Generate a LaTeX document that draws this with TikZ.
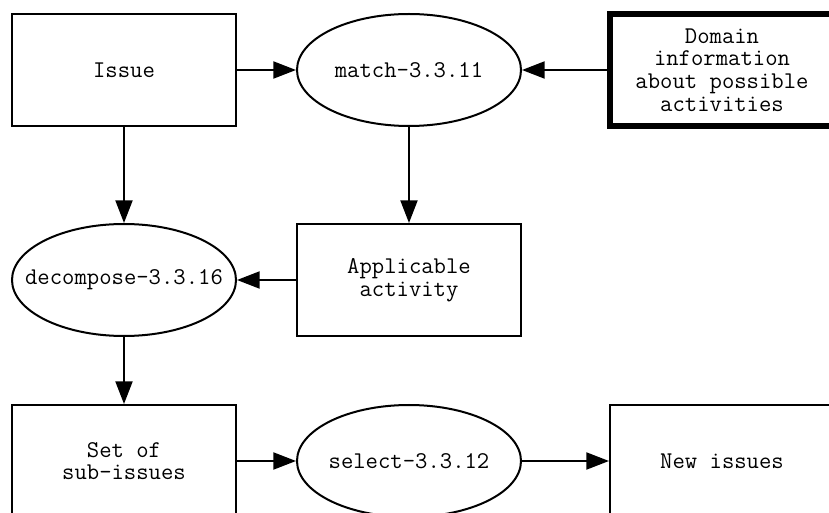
\documentclass[tikz,border=0pt]{standalone}
\usepackage{fontspec}
\usetikzlibrary{shapes, arrows.meta, positioning}

\begin{document}
\begin{tikzpicture}[x=0.75pt, y=-0.75pt,
    every node/.style={font=\ttfamily\fontsize{18pt}{17pt}\selectfont, align=center},
    data/.style={draw, rectangle, line width=1.5pt, minimum width=168pt, minimum height=84pt, inner sep=0pt},
    proc/.style={draw, ellipse, line width=1.5pt, minimum width=168pt, minimum height=84pt, inner sep=0pt},
    flow/.style={line width=1.5pt, -{Triangle[length=17pt, width=12.75pt]}}]
    \clip (0,0) rectangle (829,513);

    % Top row
    \node[data] (issue) at (124,70) {Issue};
    \node[proc] (match) at (409,70) {\makebox[0pt]{match-3.3.11}};
    \node[data, line width=4.5pt] (domain) at (722,70) {Domain\\information\\about possible\\activities};

    % Middle row
    \node[proc] (decompose) at (124,280) {\makebox[0pt]{decompose-3.3.16}};
    \node[data] (applicable) at (409,280) {Applicable\\activity};

    % Bottom row
    \node[data] (subissues) at (124,461) {Set of\\sub-issues};
    \node[proc] (select) at (409,461) {\makebox[0pt]{select-3.3.12}};
    \node[data] (newissues) at (722,461) {New issues};

    % Connectors
    \draw[flow] (issue) -- (match);
    \draw[flow] (domain) -- (match);
    \draw[flow] (issue) -- (decompose);
    \draw[flow] (match) -- (applicable);
    \draw[flow] (applicable) -- (decompose);
    \draw[flow] (decompose) -- (subissues);
    \draw[flow] (subissues) -- (select);
    \draw[flow] (select) -- (newissues);
\end{tikzpicture}
\end{document}
